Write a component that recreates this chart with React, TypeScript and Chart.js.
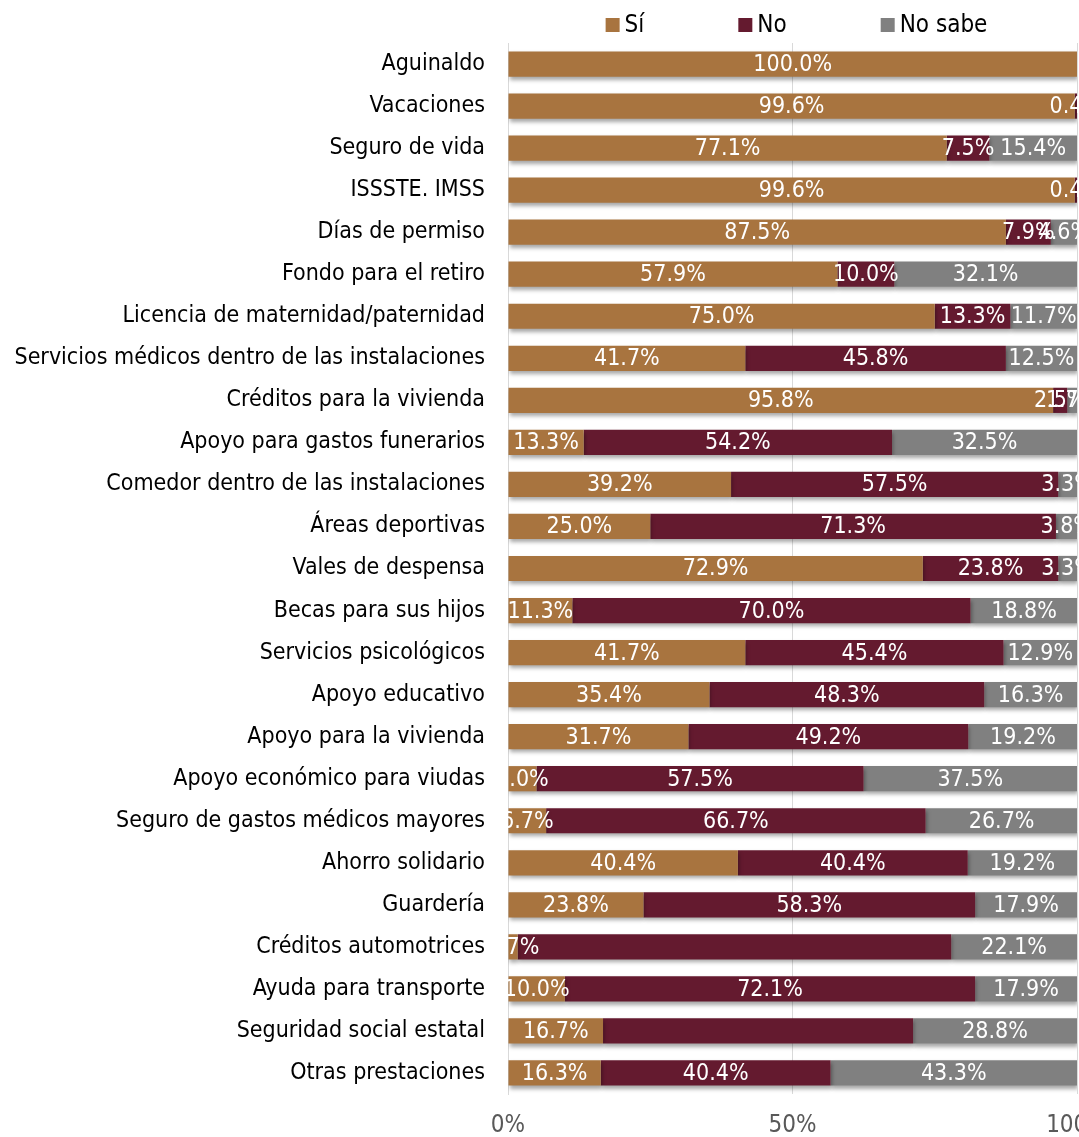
import { useEffect, useRef } from 'react';
import { Chart, registerables } from 'chart.js';

Chart.register(...registerables);

const categories = [
  'Aguinaldo',
  'Vacaciones',
  'Seguro de vida',
  'ISSSTE. IMSS',
  'Días de permiso',
  'Fondo para el retiro',
  'Licencia de maternidad/paternidad',
  'Servicios médicos dentro de las instalaciones',
  'Créditos para la vivienda',
  'Apoyo para gastos funerarios',
  'Comedor dentro de las instalaciones',
  'Áreas deportivas',
  'Vales de despensa',
  'Becas para sus hijos',
  'Servicios psicológicos',
  'Apoyo educativo',
  'Apoyo para la vivienda',
  'Apoyo económico para viudas',
  'Seguro de gastos médicos mayores',
  'Ahorro solidario',
  'Guardería',
  'Créditos automotrices',
  'Ayuda para transporte',
  'Seguridad social estatal',
  'Otras prestaciones',
];

const siValues = [100.0, 99.6, 77.1, 99.6, 87.5, 57.9, 75.0, 41.7, 95.8, 13.3, 39.2, 25.0, 72.9, 11.3, 41.7, 35.4, 31.7, 5.0, 6.7, 40.4, 23.8, 1.7, 10.0, 16.7, 16.3];
const noValues = [0, 0.4, 7.5, 0.4, 7.9, 10.0, 13.3, 45.8, 2.5, 54.2, 57.5, 71.3, 23.8, 70.0, 45.4, 48.3, 49.2, 57.5, 66.7, 40.4, 58.3, 76.2, 72.1, 54.5, 40.4];
const noSabeValues = [0, 0, 15.4, 0, 4.6, 32.1, 11.7, 12.5, 1.7, 32.5, 3.3, 3.8, 3.3, 18.8, 12.9, 16.3, 19.2, 37.5, 26.7, 19.2, 17.9, 22.1, 17.9, 28.8, 43.3];
const seriesNames = ['Sí', 'No', 'No sabe'];
const xTickValues = [0, 50, 100];
// "No" labels that are not shown in the reference
const hiddenNoLabels = ['Créditos automotrices', 'Seguridad social estatal'];

const FONT = "'DejaVu Sans Condensed', 'Liberation Sans', sans-serif";
const COLORS = ['#A8743F', '#641A2F', '#808080'];

const decoPlugin = {
  id: 'deco',
  beforeDatasetsDraw(chart: any) {
    const c = chart.ctx;
    c.save();
    c.shadowColor = 'rgba(0,0,0,0.35)';
    c.shadowBlur = 4;
    c.shadowOffsetX = 1;
    c.shadowOffsetY = 3;
  },
  afterDatasetsDraw(chart: any) {
    const c = chart.ctx;
    c.restore();
    const area = chart.chartArea;
    c.save();
    c.beginPath();
    c.rect(area.left, 0, chart.width - area.left, chart.height);
    c.clip();
    c.font = `23px ${FONT}`;
    c.fillStyle = '#FFFFFF';
    c.textAlign = 'center';
    c.textBaseline = 'middle';
    chart.data.datasets.forEach((ds: any, di: number) => {
      const meta = chart.getDatasetMeta(di);
      meta.data.forEach((bar: any, i: number) => {
        const v = ds.data[i];
        if (!v) return;
        if (di === 1 && hiddenNoLabels.includes(categories[i])) return;
        const p = bar.getProps(['x', 'base', 'y'], true);
        c.fillText(v.toFixed(1) + '%', (p.x + p.base) / 2, p.y + 1);
      });
    });
    c.restore();
  },
  afterDraw(chart: any) {
    const c = chart.ctx;
    const area = chart.chartArea;
    c.save();
    c.font = `24px ${FONT}`;
    c.textBaseline = 'middle';
    c.textAlign = 'left';
    const box = 14;
    const gapText = 5;
    const gapItem = 94;
    const widths = seriesNames.map((n) => c.measureText(n).width);
    const total = widths.reduce((a, w) => a + box + gapText + w, 0) + gapItem * (seriesNames.length - 1);
    let x = (area.left + area.right) / 2 + 4 - total / 2;
    const y = 25;
    seriesNames.forEach((n, i) => {
      c.fillStyle = COLORS[i];
      c.fillRect(x, y - box / 2, box, box);
      c.fillStyle = '#000000';
      c.fillText(n, x + box + gapText, y + 1);
      x += box + gapText + widths[i] + gapItem;
    });
    c.restore();
  },
};

export default function App() {
  const ref = useRef<HTMLCanvasElement>(null);
  useEffect(() => {
    document.documentElement.style.overflow = 'hidden';
    document.body.style.overflow = 'hidden';
    Chart.defaults.font.family = FONT;
    const chart = new Chart(ref.current!, {
      type: 'bar',
      data: {
        labels: categories,
        datasets: [siValues, noValues, noSabeValues].map((d, i) => ({
          label: seriesNames[i],
          data: d,
          backgroundColor: COLORS[i],
          borderWidth: 0,
          categoryPercentage: 0.6,
          barPercentage: 1,
        })),
      },
      options: {
        indexAxis: 'y',
        animation: false,
        responsive: true,
        maintainAspectRatio: false,
        layout: { padding: { top: 43, right: 2, bottom: 0, left: 0 } },
        plugins: {
          legend: { display: false },
          tooltip: { enabled: false },
        },
        scales: {
          x: {
            stacked: true,
            min: 0,
            max: 100,
            afterBuildTicks: (s: any) => {
              s.ticks = xTickValues.map((v) => ({ value: v }));
            },
            afterFit: (s: any) => {
              s.height = 43;
              s.paddingLeft = 0;
              s.paddingRight = 0;
            },
            grid: { color: '#D9D9D9', drawTicks: false, lineWidth: 1 },
            border: { display: false },
            ticks: {
              padding: 17,
              color: '#595959',
              font: { size: 24, family: FONT },
              maxRotation: 0,
              autoSkip: false,
              callback: (v: any) => v + '%',
            },
          },
          y: {
            stacked: true,
            afterFit: (s: any) => {
              s.width = 508;
              s.paddingTop = 0;
              s.paddingBottom = 0;
            },
            grid: { display: false, drawTicks: false },
            border: { display: true, color: '#D9D9D9' },
            ticks: {
              padding: 23,
              color: '#000000',
              font: { size: 23, family: FONT },
              autoSkip: false,
            },
          },
        },
      },
      plugins: [decoPlugin],
    });
    return () => chart.destroy();
  }, []);
  return (
    <div style={{ position: 'absolute', left: 0, top: 0, width: 1079, height: 1137 }}>
      <canvas ref={ref} />
    </div>
  );
}
